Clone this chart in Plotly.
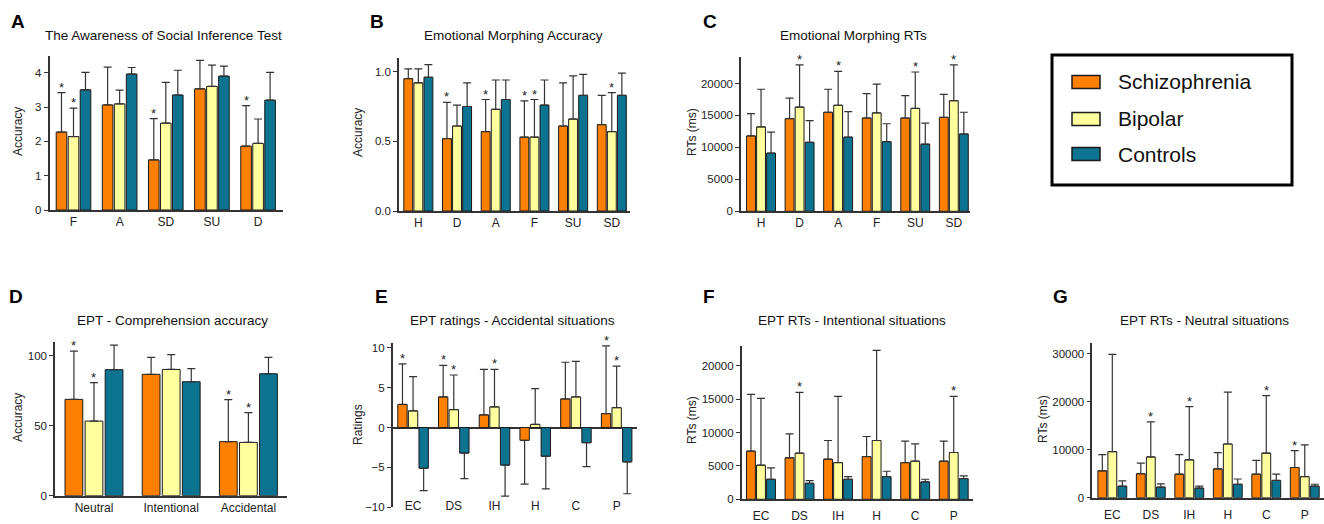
import plotly.graph_objects as go

W, H = 1324, 524
FONT = "Arial, Liberation Sans, Helvetica, sans-serif"

group_names = ["Schizophrenia", "Bipolar", "Controls"]
group_colors = ["#FF7F00", "#FFFF9E", "#0C7390"]

# ---------------- Panel A: The Awareness of Social Inference Test
A_cats = ["F", "A", "SD", "SU", "D"]
A_scz = [2.27, 3.06, 1.46, 3.53, 1.86]
A_scz_sd = [1.15, 1.10, 1.20, 0.83, 1.18]
A_bip = [2.14, 3.09, 2.53, 3.60, 1.94]
A_bip_sd = [0.83, 0.40, 1.19, 0.62, 0.71]
A_con = [3.50, 3.96, 3.35, 3.90, 3.20]
A_con_sd = [0.51, 0.19, 0.72, 0.29, 0.81]
A_scz_star = [1, 0, 1, 0, 1]
A_bip_star = [1, 0, 0, 0, 0]
A_yticks = [0, 1, 2, 3, 4]

# ---------------- Panel B: Emotional Morphing Accuracy
B_cats = ["H", "D", "A", "F", "SU", "SD"]
B_scz = [0.95, 0.52, 0.57, 0.53, 0.61, 0.62]
B_scz_sd = [0.07, 0.26, 0.23, 0.26, 0.31, 0.21]
B_bip = [0.92, 0.61, 0.73, 0.53, 0.66, 0.57]
B_bip_sd = [0.10, 0.15, 0.21, 0.27, 0.31, 0.28]
B_con = [0.96, 0.75, 0.80, 0.76, 0.83, 0.83]
B_con_sd = [0.09, 0.17, 0.14, 0.18, 0.15, 0.16]
B_scz_star = [0, 1, 1, 1, 0, 0]
B_bip_star = [0, 0, 0, 1, 0, 1]
B_yticks = [0.0, 0.5, 1.0]

# ---------------- Panel C: Emotional Morphing RTs
C_cats = ["H", "D", "A", "F", "SU", "SD"]
C_scz = [11800, 14500, 15500, 14600, 14600, 14700]
C_scz_sd = [3500, 3200, 3600, 3800, 3500, 3600]
C_bip = [13200, 16300, 16600, 15400, 16100, 17300]
C_bip_sd = [5900, 6600, 5300, 4500, 5700, 5600]
C_con = [9100, 10800, 11600, 10900, 10500, 12100]
C_con_sd = [3300, 3400, 4000, 2800, 3300, 3400]
C_scz_star = [0, 0, 0, 0, 0, 0]
C_bip_star = [0, 1, 1, 0, 1, 1]
C_yticks = [0, 5000, 10000, 15000, 20000]

# ---------------- Panel D: EPT - Comprehension accuracy
D_cats = ["Neutral", "Intentional", "Accidental"]
D_scz = [68.8, 86.7, 38.6]
D_scz_sd = [34.5, 12.1, 30.0]
D_bip = [53.3, 90.2, 38.1]
D_bip_sd = [27.4, 10.5, 21.2]
D_con = [90.0, 81.4, 87.1]
D_con_sd = [17.6, 9.3, 11.7]
D_scz_star = [1, 0, 1]
D_bip_star = [1, 0, 1]
D_yticks = [0, 50, 100]

# ---------------- Panel E: EPT ratings - Accidental situations
E_cats = ["EC", "DS", "IH", "H", "C", "P"]
E_scz = [2.9, 3.85, 1.6, -1.6, 3.6, 1.76]
E_scz_sd = [5.1, 3.95, 5.7, 5.5, 4.6, 8.5]
E_bip = [2.1, 2.26, 2.6, 0.4, 3.85, 2.5]
E_bip_sd = [4.3, 4.34, 4.7, 4.5, 4.45, 5.2]
E_con = [-5.1, -3.2, -4.7, -3.6, -1.9, -4.3]
E_con_sd = [2.8, 3.2, 3.9, 4.1, 3.0, 4.0]
E_scz_star = [1, 1, 0, 0, 0, 1]
E_bip_star = [0, 1, 1, 0, 0, 1]
E_yticks = [-10, -5, 0, 5, 10]

# ---------------- Panel F: EPT RTs - Intentional situations
F_cats = ["EC", "DS", "IH", "H", "C", "P"]
F_scz = [7200, 6200, 6000, 6400, 5500, 5700]
F_scz_sd = [8500, 3600, 2800, 3000, 3200, 3000]
F_bip = [5100, 6900, 5500, 8800, 5700, 7000]
F_bip_sd = [10000, 9100, 9900, 13500, 2600, 8400]
F_con = [3000, 2400, 3000, 3400, 2600, 3100]
F_con_sd = [1700, 400, 400, 800, 400, 400]
F_scz_star = [0, 0, 0, 0, 0, 0]
F_bip_star = [0, 1, 0, 0, 0, 1]
F_yticks = [0, 5000, 10000, 15000, 20000]

# ---------------- Panel G: EPT RTs - Neutral situations
G_cats = ["EC", "DS", "IH", "H", "C", "P"]
G_scz = [5600, 5000, 4900, 6000, 4900, 6300]
G_scz_sd = [3400, 2200, 4100, 3400, 2900, 3500]
G_bip = [9600, 8500, 7900, 11200, 9300, 4400]
G_bip_sd = [20300, 7300, 11100, 10800, 12000, 6600]
G_con = [2400, 2200, 2000, 2800, 3600, 2400]
G_con_sd = [1100, 700, 400, 1100, 1300, 400]
G_scz_star = [0, 0, 0, 0, 0, 1]
G_bip_star = [0, 1, 1, 0, 1, 0]
G_yticks = [0, 10000, 20000, 30000]

panels = [
    dict(letter="A", title="The Awareness of Social Inference Test", ytitle="Accuracy",
         cats=A_cats, vals=[A_scz, A_bip, A_con], sds=[A_scz_sd, A_bip_sd, A_con_sd],
         stars=[A_scz_star, A_bip_star, [0] * 5], yticks=A_yticks, tickfmt="",
         px=(49.5, 283), py=(55.5, 210), xr=(-0.52, 4.54), yr=(0, 4.5),
         letter_pos=(18, 21), title_pos=(163, 35), ytitle_pos=(18, 132), xstand=0),
    dict(letter="B", title="Emotional Morphing Accuracy", ytitle="Accuracy",
         cats=B_cats, vals=[B_scz, B_bip, B_con], sds=[B_scz_sd, B_bip_sd, B_con_sd],
         stars=[B_scz_star, B_bip_star, [0] * 6], yticks=B_yticks, tickfmt=".1f",
         px=(399, 630), py=(58, 211), xr=(-0.5, 5.47), yr=(0, 1.098),
         letter_pos=(377, 21), title_pos=(513, 35), ytitle_pos=(358, 133), xstand=0),
    dict(letter="C", title="Emotional Morphing RTs", ytitle="RTs (ms)",
         cats=C_cats, vals=[C_scz, C_bip, C_con], sds=[C_scz_sd, C_bip_sd, C_con_sd],
         stars=[C_scz_star, C_bip_star, [0] * 6], yticks=C_yticks, tickfmt="d",
         px=(741, 970), py=(57.3, 211.3), xr=(-0.52, 5.42), yr=(0, 24100),
         letter_pos=(710, 21), title_pos=(853, 35), ytitle_pos=(692, 132), xstand=0),
    dict(letter="D", title="EPT - Comprehension accuracy", ytitle="Accuracy",
         cats=D_cats, vals=[D_scz, D_bip, D_con], sds=[D_scz_sd, D_bip_sd, D_con_sd],
         stars=[D_scz_star, D_bip_star, [0] * 3], yticks=D_yticks, tickfmt="d",
         px=(55, 287), py=(341.7, 495.7), xr=(-0.505, 2.5), yr=(0, 110),
         letter_pos=(16, 296), title_pos=(172, 320), ytitle_pos=(18, 418), xstand=0),
    dict(letter="E", title="EPT ratings - Accidental situations", ytitle="Ratings",
         cats=E_cats, vals=[E_scz, E_bip, E_con], sds=[E_scz_sd, E_bip_sd, E_con_sd],
         stars=[E_scz_star, E_bip_star, [0] * 6], yticks=E_yticks, tickfmt="d",
         px=(392.7, 637), py=(342.7, 507.3), xr=(-0.5, 5.5), yr=(-10, 10.65),
         letter_pos=(381, 296), title_pos=(512, 320), ytitle_pos=(358, 425), xstand=-10),
    dict(letter="F", title="EPT RTs - Intentional situations", ytitle="RTs (ms)",
         cats=F_cats, vals=[F_scz, F_bip, F_con], sds=[F_scz_sd, F_bip_sd, F_con_sd],
         stars=[F_scz_star, F_bip_star, [0] * 6], yticks=F_yticks, tickfmt="d",
         px=(741.7, 973), py=(346, 499.3), xr=(-0.5, 5.5), yr=(0, 22940),
         letter_pos=(709, 296), title_pos=(852, 320), ytitle_pos=(692, 420), xstand=5),
    dict(letter="G", title="EPT RTs - Neutral situations", ytitle="RTs (ms)",
         cats=G_cats, vals=[G_scz, G_bip, G_con], sds=[G_scz_sd, G_bip_sd, G_con_sd],
         stars=[G_scz_star, G_bip_star, [0] * 6], yticks=G_yticks, tickfmt="d",
         px=(1092.3, 1324), py=(343.3, 497.7), xr=(-0.52, 5.5), yr=(0, 32200),
         letter_pos=(1060, 296), title_pos=(1204, 320), ytitle_pos=(1043, 419), xstand=5),
]

OFFSETS = [-0.26, 0.0, 0.26]
BAR_W = 0.23
AXC = "#333333"

fig = go.Figure()
annotations = []
shapes = []
layout_axes = {}

for i, p in enumerate(panels, start=1):
    xa = "x" if i == 1 else f"x{i}"
    ya = "y" if i == 1 else f"y{i}"
    n = len(p["cats"])
    for g in range(3):
        vals = p["vals"][g]
        sds = p["sds"][g]
        xs = [k + OFFSETS[g] for k in range(n)]
        plus = [s if v >= 0 else 0 for v, s in zip(vals, sds)]
        minus = [s if v < 0 else 0 for v, s in zip(vals, sds)]
        fig.add_trace(go.Bar(
            x=xs, y=vals, width=BAR_W, name=group_names[g], showlegend=False,
            marker=dict(color=group_colors[g], line=dict(color="#1a1a1a", width=1)),
            error_y=dict(type="data", symmetric=False, array=plus, arrayminus=minus,
                         color=AXC, thickness=1.2, width=4),
            xaxis=xa, yaxis=ya,
        ))
        for k, st in enumerate(p["stars"][g]):
            if st:
                annotations.append(dict(
                    x=xs[k], y=vals[k] + sds[k], xref=xa, yref=ya, text="*",
                    showarrow=False, yanchor="bottom", yshift=-4,
                    font=dict(family=FONT, size=13, color="#222")))

    x0, x1 = p["px"]
    ytop, ybot = p["py"]
    xkey = "xaxis" if i == 1 else f"xaxis{i}"
    ykey = "yaxis" if i == 1 else f"yaxis{i}"
    layout_axes[xkey] = dict(
        domain=[x0 / W, min(x1 / W, 1.0)], range=list(p["xr"]), anchor=ya,
        tickmode="array", tickvals=list(range(n)), ticktext=p["cats"],
        showline=(p["letter"] != "E"), linecolor=AXC, linewidth=1.5,
        ticks="", showgrid=False, zeroline=False, ticklabelstandoff=p["xstand"],
        automargin=False,
        tickfont=dict(family=FONT, size=12, color="#222"), fixedrange=True,
    )
    layout_axes[ykey] = dict(
        domain=[1 - ybot / H, 1 - ytop / H], range=list(p["yr"]), anchor=xa,
        tickmode="array", tickvals=p["yticks"], tickformat=p["tickfmt"],
        showline=True, linecolor=AXC, linewidth=1.5, ticks="outside", ticklen=4,
        tickcolor=AXC, tickwidth=1.2, showgrid=False, automargin=False,
        zeroline=(p["letter"] == "E"), zerolinecolor=AXC, zerolinewidth=1.5,
        tickfont=dict(family=FONT, size=11.5, color="#222"), fixedrange=True,
    )
    lx, ly = p["letter_pos"]
    annotations.append(dict(x=lx / W, y=1 - ly / H, xref="paper", yref="paper",
                            text=f"<b>{p['letter']}</b>", showarrow=False,
                            xanchor="center", yanchor="middle",
                            font=dict(family=FONT, size=19, color="black")))
    tx, ty = p["title_pos"]
    annotations.append(dict(x=tx / W, y=1 - ty / H, xref="paper", yref="paper",
                            text=p["title"], showarrow=False,
                            xanchor="center", yanchor="middle",
                            font=dict(family=FONT, size=13.5, color="#111")))
    ax_, ay_ = p["ytitle_pos"]
    annotations.append(dict(x=ax_ / W, y=1 - ay_ / H, xref="paper", yref="paper",
                            text=p["ytitle"], showarrow=False, textangle=-90,
                            xanchor="center", yanchor="middle",
                            font=dict(family=FONT, size=12, color="#222")))

# ---------------- Legend box (drawn)
shapes.append(dict(type="rect", xref="paper", yref="paper",
                   x0=1052 / W, x1=1292 / W, y0=1 - 185 / H, y1=1 - 55 / H,
                   line=dict(color="black", width=3), fillcolor="white"))
legend_rows = [82, 119, 154]
for g in range(3):
    yc = legend_rows[g]
    shapes.append(dict(type="rect", xref="paper", yref="paper",
                       x0=1072 / W, x1=1100 / W, y0=1 - (yc + 6.5) / H, y1=1 - (yc - 6.5) / H,
                       line=dict(color="#1a1a1a", width=1.5), fillcolor=group_colors[g]))
    annotations.append(dict(x=1116 / W, y=1 - yc / H, xref="paper", yref="paper",
                            text=group_names[g], showarrow=False, xanchor="left",
                            yanchor="middle", font=dict(family=FONT, size=21, color="#111")))

fig.update_layout(
    width=W, height=H, margin=dict(l=0, r=0, t=0, b=0, autoexpand=False),
    paper_bgcolor="white", plot_bgcolor="white", barmode="overlay",
    annotations=annotations, shapes=shapes, showlegend=False,
    **layout_axes,
)

fig.write_html(
    "out.html",
    config={"displayModeBar": False},
    post_script="document.body.style.margin='0';document.body.style.overflow='hidden';",
)
